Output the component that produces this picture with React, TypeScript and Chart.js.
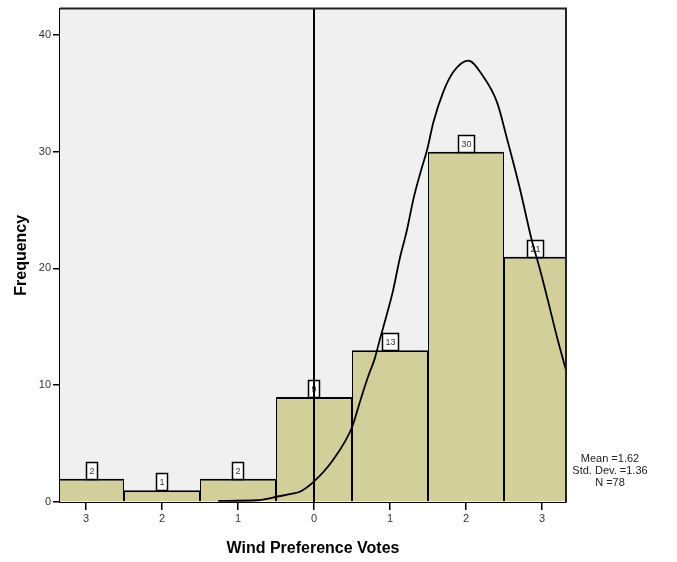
import React, { useEffect, useRef } from 'react';
import { Chart, registerables } from 'chart.js';

Chart.register(...registerables);

// ---- data ----
const categories = [-3, -2, -1, 0, 1, 2, 3];
const frequencies = [2, 1, 2, 9, 13, 30, 21];
const xTickValues = [-3, -2, -1, 0, 1, 2, 3];
const xTickLabels = ['3', '2', '1', '0', '1', '2', '3'];
const yTickValues = [0, 10, 20, 30, 40];
const curveX = [-1.26, -0.75, -0.64, -0.49, -0.3, -0.18, -0.01, 0.25, 0.5, 0.61, 0.71, 0.8, 0.87, 0.96, 1.04, 1.13, 1.22, 1.31, 1.4, 1.49, 1.57, 1.7, 1.83, 2.03, 2.22, 2.41, 2.54, 2.71, 2.87, 2.97, 3.08, 3.21, 3.32];
const curveY = [0.1, 0.15, 0.25, 0.45, 0.7, 0.9, 1.7, 3.6, 6.4, 8.7, 10.7, 12.3, 14.0, 16.1, 18.1, 20.9, 23.2, 26.0, 28.2, 30.2, 32.5, 35.1, 36.8, 37.8, 36.5, 34.2, 31.1, 26.8, 22.3, 20.0, 17.2, 13.8, 11.2];
const statsLines = ['Mean =1.62', 'Std. Dev. =1.36', 'N =78'];
const referenceLineX = 0;
const xRange = [-3.3421, 3.3158];
const yRange = [0, 42.25];
const xTitle = 'Wind Preference Votes';
const yTitle = 'Frequency';

const FONT = '"Liberation Sans", Arial, Helvetica, sans-serif';
const BAR_FILL = '#d3cf9a';
const PLOT_BG = '#f0f0f0';

const backgroundPlugin = {
  id: 'plotBackground',
  beforeDatasetsDraw(chart: any) {
    const { ctx, chartArea } = chart;
    ctx.save();
    ctx.fillStyle = PLOT_BG;
    ctx.fillRect(chartArea.left, chartArea.top, chartArea.right - chartArea.left, chartArea.bottom - chartArea.top);
    ctx.restore();
  },
};

const barLabelPlugin = {
  id: 'barLabels',
  afterDatasetDraw(chart: any, args: any) {
    if (args.index !== 1) return;
    const { ctx, chartArea } = chart;
    const meta = chart.getDatasetMeta(1);
    ctx.save();
    ctx.font = `9px ${FONT}`;
    ctx.textAlign = 'center';
    ctx.textBaseline = 'middle';
    meta.data.forEach((bar: any, i: number) => {
      const p = bar.getProps(['x', 'y', 'width'], true);
      const left = Math.max(p.x - p.width / 2, chartArea.left);
      const right = Math.min(p.x + p.width / 2, chartArea.right);
      const cx = (left + right) / 2;
      const text = String(frequencies[i]);
      const w = Math.round(ctx.measureText(text).width + 6);
      const h = 17;
      const bx = Math.round(cx - w / 2) + 0.5;
      const by = Math.round(p.y - h) + 0.5;
      ctx.fillStyle = '#ffffff';
      ctx.fillRect(bx, by, w, h);
      ctx.strokeStyle = '#000';
      ctx.lineWidth = 1.5;
      ctx.strokeRect(bx, by, w, h);
      ctx.fillStyle = '#333';
      ctx.fillText(text, bx + w / 2, by + h / 2 + 1);
    });
    ctx.restore();
  },
};

const overlayPlugin = {
  id: 'overlay',
  afterDatasetsDraw(chart: any) {
    const { ctx, chartArea, scales } = chart;
    ctx.save();
    // reference line
    const x0 = Math.round(scales.x.getPixelForValue(referenceLineX));
    ctx.strokeStyle = '#000';
    ctx.lineWidth = 2;
    ctx.beginPath();
    ctx.moveTo(x0, chartArea.top);
    ctx.lineTo(x0, chartArea.bottom);
    ctx.stroke();
    // frame top & right
    ctx.strokeStyle = '#222';
    ctx.lineWidth = 2;
    ctx.beginPath();
    ctx.moveTo(chartArea.left, chartArea.top);
    ctx.lineTo(chartArea.right, chartArea.top);
    ctx.lineTo(chartArea.right, chartArea.bottom);
    ctx.stroke();
    // stats text
    ctx.fillStyle = '#222';
    ctx.font = `11px ${FONT}`;
    ctx.textAlign = 'center';
    ctx.textBaseline = 'middle';
    const cx = chartArea.right + 44;
    statsLines.forEach((line, i) => {
      ctx.fillText(line, cx, chartArea.bottom - 43 + i * 12);
    });
    ctx.restore();
  },
};

export default function App() {
  const canvasRef = useRef<HTMLCanvasElement | null>(null);

  useEffect(() => {
    if (!canvasRef.current) return;
    Chart.defaults.font.family = FONT;
    const chart = new Chart(canvasRef.current, {
      type: 'bar',
      data: {
        datasets: [
          {
            type: 'line',
            data: curveX.map((x, i) => ({ x, y: curveY[i] })),
            borderColor: '#000',
            borderWidth: 1.8,
            pointRadius: 0,
            cubicInterpolationMode: 'monotone',
            fill: false,
            order: 0,
            clip: 0,
          } as any,
          {
            type: 'bar',
            data: categories.map((c, i) => ({ x: c, y: frequencies[i] })),
            backgroundColor: BAR_FILL,
            borderColor: '#000',
            borderWidth: { left: 1, right: 1, top: 2, bottom: 0 },
            borderSkipped: false,
            barPercentage: 1,
            categoryPercentage: 1,
            inflateAmount: 0,
            order: 1,
            clip: 0,
          } as any,
        ],
      },
      options: {
        animation: false,
        responsive: false,
        devicePixelRatio: 1,
        layout: { padding: { left: 0, right: 111, top: 6, bottom: 0 } },
        plugins: {
          legend: { display: false },
          tooltip: { enabled: false },
          title: { display: false },
        },
        scales: {
          x: {
            type: 'linear',
            min: xRange[0],
            max: xRange[1],
            offset: false,
            afterBuildTicks: (scale: any) => {
              scale.ticks = xTickValues.map((v) => ({ value: v }));
            },
            afterFit: (scale: any) => {
              scale.height = 60;
            },
            ticks: {
              color: '#333',
              font: { size: 11 },
              padding: 2,
              maxRotation: 0,
              callback: (v: any) => {
                const idx = xTickValues.indexOf(Number(v));
                return idx >= 0 ? xTickLabels[idx] : '';
              },
            },
            grid: {
              display: true,
              drawOnChartArea: false,
              drawTicks: true,
              tickLength: 8,
              color: '#000',
              lineWidth: 1.5,
              offset: false,
            },
            border: { display: true, color: '#000', width: 2 },
            title: {
              display: true,
              text: xTitle,
              color: '#000',
              font: { size: 16, weight: 'bold' },
              padding: { top: 0, bottom: 4 },
            },
          },
          y: {
            type: 'linear',
            min: yRange[0],
            max: yRange[1],
            afterBuildTicks: (scale: any) => {
              scale.ticks = yTickValues.map((v) => ({ value: v }));
            },
            afterFit: (scale: any) => {
              scale.width = 60;
            },
            ticks: {
              color: '#333',
              font: { size: 11 },
              padding: 2,
            },
            grid: {
              display: true,
              drawOnChartArea: false,
              drawTicks: true,
              tickLength: 7,
              color: '#000',
              lineWidth: 1.5,
            },
            border: { display: true, color: '#000', width: 2 },
            title: {
              display: true,
              text: yTitle,
              color: '#000',
              font: { size: 16, weight: 'bold' },
              padding: { top: 12, bottom: 0 },
            },
          },
        },
      } as any,
      plugins: [backgroundPlugin, barLabelPlugin, overlayPlugin],
    });
    return () => chart.destroy();
  }, []);

  return (
    <div style={{ position: 'absolute', left: 0, top: 0, width: 677, height: 562, background: '#fff' }}>
      <canvas ref={canvasRef} width={677} height={562} style={{ width: 677, height: 562, display: 'block' }} />
    </div>
  );
}
